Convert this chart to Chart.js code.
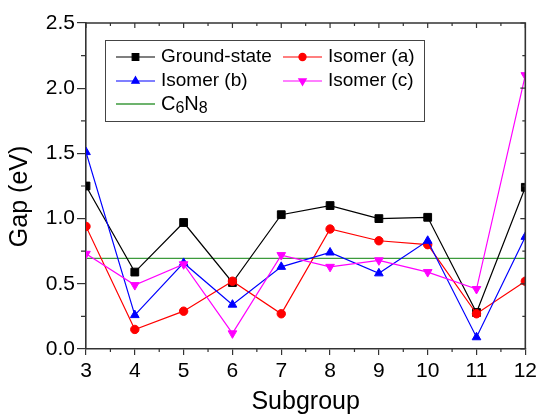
<!DOCTYPE html>
<html>
<head>
<meta charset="utf-8">
<script src="https://cdn.jsdelivr.net/npm/chart.js"></script>
<style>
  html, body { margin: 0; padding: 0; background: #fff; }
  #wrap { width: 541px; height: 417px; }
</style>
</head>
<body>
<div id="wrap"><canvas id="chart" width="541" height="417"></canvas></div>
<script>
// Данные
const subgroups = [3, 4, 5, 6, 7, 8, 9, 10, 11, 12];
const groundState = [1.25, 0.59, 0.97, 0.51, 1.03, 1.10, 1.00, 1.01, 0.28, 1.24];
const isomerA = [0.94, 0.15, 0.29, 0.52, 0.27, 0.92, 0.83, 0.80, 0.27, 0.52];
const isomerB = [1.51, 0.26, 0.66, 0.34, 0.63, 0.74, 0.58, 0.83, 0.09, 0.86];
const isomerC = [0.73, 0.49, 0.65, 0.12, 0.72, 0.63, 0.68, 0.59, 0.46, 2.10];
const c6n8Gap = 0.695;
const yTicks = [0, 0.5, 1.0, 1.5, 2.0, 2.5];

const FONT = '"Liberation Sans", Arial, sans-serif';

function pairs(ys) {
    return subgroups.map((x, i) => ({ x: x, y: ys[i] }));
}

// Рамка, дополнительные штрихи и легенда
const framePlugin = {
    id: 'frame',
    afterDraw(chart) {
        const ctx = chart.ctx;
        const xs = chart.scales.x;
        const ys = chart.scales.y;
        const a = chart.chartArea;
        ctx.save();
        ctx.strokeStyle = '#333';
        ctx.lineWidth = 1.6;
        ctx.beginPath();
        ctx.moveTo(a.left, a.top);
        ctx.lineTo(a.right, a.top);
        ctx.lineTo(a.right, a.bottom);
        ctx.stroke();

        ctx.lineWidth = 1.2;
        ctx.beginPath();
        // ось X: штрихи каждые 0.5
        for (let v = xs.min; v <= xs.max + 1e-9; v += 0.5) {
            const px = xs.getPixelForValue(v);
            const major = Math.abs(v - Math.round(v)) < 1e-9;
            if (!major) {
                ctx.moveTo(px, a.bottom);
                ctx.lineTo(px, a.bottom + 3);
            }
            ctx.moveTo(px, a.top);
            ctx.lineTo(px, a.top + (major ? 5 : 3));
        }
        // ось Y: штрихи каждые 0.25
        for (let v = ys.min; v <= ys.max + 1e-9; v += 0.25) {
            const py = ys.getPixelForValue(v);
            const major = Math.abs(v * 2 - Math.round(v * 2)) < 1e-9;
            if (!major) {
                ctx.moveTo(a.left, py);
                ctx.lineTo(a.left - 5, py);
            }
            ctx.moveTo(a.right, py);
            ctx.lineTo(a.right - (major ? 5 : 3), py);
        }
        ctx.stroke();

        // Легенда
        const box = { left: 105, top: 40, right: 424, bottom: 121 };
        ctx.strokeStyle = '#444';
        ctx.lineWidth = 1;
        ctx.strokeRect(box.left + 0.5, box.top + 0.5, box.right - box.left, box.bottom - box.top);

        const entries = [
            { ds: 0, col: 0, row: 0 },
            { ds: 1, col: 1, row: 0 },
            { ds: 2, col: 0, row: 1 },
            { ds: 3, col: 1, row: 1 },
            { ds: 4, col: 0, row: 2 }
        ];
        const colX = [116, 283];
        const rowY = [57, 81, 104];
        entries.forEach(e => {
            const d = chart.data.datasets[e.ds];
            const x0 = colX[e.col];
            const y0 = rowY[e.row];
            ctx.strokeStyle = d.borderColor;
            ctx.lineWidth = d.borderWidth;
            ctx.beginPath();
            ctx.moveTo(x0, y0);
            ctx.lineTo(x0 + 39, y0);
            ctx.stroke();
            if (d.pointRadius > 0) {
                ctx.fillStyle = d.pointBackgroundColor;
                ctx.strokeStyle = d.pointBorderColor;
                Chart.helpers.drawPoint(ctx, {
                    pointStyle: d.pointStyle,
                    rotation: d.pointRotation || 0,
                    radius: d.pointRadius * 0.85,
                    borderWidth: 1
                }, x0 + 19.5, y0);
            }
            ctx.fillStyle = '#000';
            ctx.textBaseline = 'middle';
            ctx.textAlign = 'left';
            const tx = x0 + 45;
            if (d.label === 'C6N8') {
                let x = tx;
                const parts = [['C', false], ['6', true], ['N', false], ['8', true]];
                parts.forEach(p => {
                    ctx.font = (p[1] ? '16px ' : '20px ') + FONT;
                    ctx.fillText(p[0], x, y0 + (p[1] ? 5 : 0));
                    x += ctx.measureText(p[0]).width;
                });
            } else {
                ctx.font = '19px ' + FONT;
                ctx.fillText(d.label, tx, y0);
            }
        });
        ctx.restore();
    }
};

const ctx = document.getElementById('chart').getContext('2d');
new Chart(ctx, {
    type: 'line',
    data: {
        datasets: [
            {
                label: 'Ground-state', data: pairs(groundState), order: 5,
                borderColor: '#000', backgroundColor: '#000', borderWidth: 1.2,
                pointStyle: 'rect', pointRadius: 5.5,
                pointBackgroundColor: '#000', pointBorderColor: '#000', pointBorderWidth: 1
            },
            {
                label: 'Isomer (a)', data: pairs(isomerA), order: 4,
                borderColor: '#ff0000', backgroundColor: '#ff0000', borderWidth: 1.2,
                pointStyle: 'circle', pointRadius: 4.2,
                pointBackgroundColor: '#ff0000', pointBorderColor: '#ff0000', pointBorderWidth: 1
            },
            {
                label: 'Isomer (b)', data: pairs(isomerB), order: 3,
                borderColor: '#0000ff', backgroundColor: '#0000ff', borderWidth: 1.2,
                pointStyle: 'triangle', pointRadius: 5,
                pointBackgroundColor: '#0000ff', pointBorderColor: '#0000ff', pointBorderWidth: 1
            },
            {
                label: 'Isomer (c)', data: pairs(isomerC), order: 2,
                borderColor: '#ff00ff', backgroundColor: '#ff00ff', borderWidth: 1.2,
                pointStyle: 'triangle', pointRotation: 180, pointRadius: 5,
                pointBackgroundColor: '#ff00ff', pointBorderColor: '#ff00ff', pointBorderWidth: 1
            },
            {
                label: 'C6N8', data: [{ x: subgroups[0], y: c6n8Gap }, { x: subgroups[subgroups.length - 1], y: c6n8Gap }],
                order: 6, borderColor: '#3c9a3c', backgroundColor: '#3c9a3c', borderWidth: 1.4,
                pointRadius: 0
            }
        ]
    },
    options: {
        responsive: false,
        animation: false,
        devicePixelRatio: 1,
        layout: { padding: { top: 23, right: 14, left: 0, bottom: 0 } },
        plugins: {
            legend: { display: false },
            tooltip: { enabled: false }
        },
        scales: {
            x: {
                type: 'linear',
                min: 3, max: 12,
                afterFit: s => { s.height = 68; },
                ticks: {
                    stepSize: 1, color: '#000', padding: 4,
                    font: { family: FONT, size: 21 }
                },
                grid: { drawOnChartArea: false, tickLength: 6, color: '#333', lineWidth: 1.2 },
                border: { display: true, color: '#333', width: 1.6 },
                title: {
                    display: true, text: 'Subgroup', color: '#000',
                    font: { family: FONT, size: 25 }, padding: { top: 0, bottom: 0 }
                }
            },
            y: {
                min: 0, max: 2.5,
                afterFit: s => { s.width = 86; },
                afterBuildTicks: s => { s.ticks = yTicks.map(v => ({ value: v })); },
                ticks: {
                    color: '#000', padding: 2,
                    font: { family: FONT, size: 21 },
                    callback: v => v.toFixed(1)
                },
                grid: { drawOnChartArea: false, tickLength: 9, color: '#333', lineWidth: 1.2 },
                border: { display: true, color: '#333', width: 1.6 },
                title: {
                    display: true, text: 'Gap (eV)   ', color: '#000',
                    font: { family: FONT, size: 25 }, padding: { top: 5, bottom: 0 }
                }
            }
        }
    },
    plugins: [framePlugin]
});
</script>
</body>
</html>
